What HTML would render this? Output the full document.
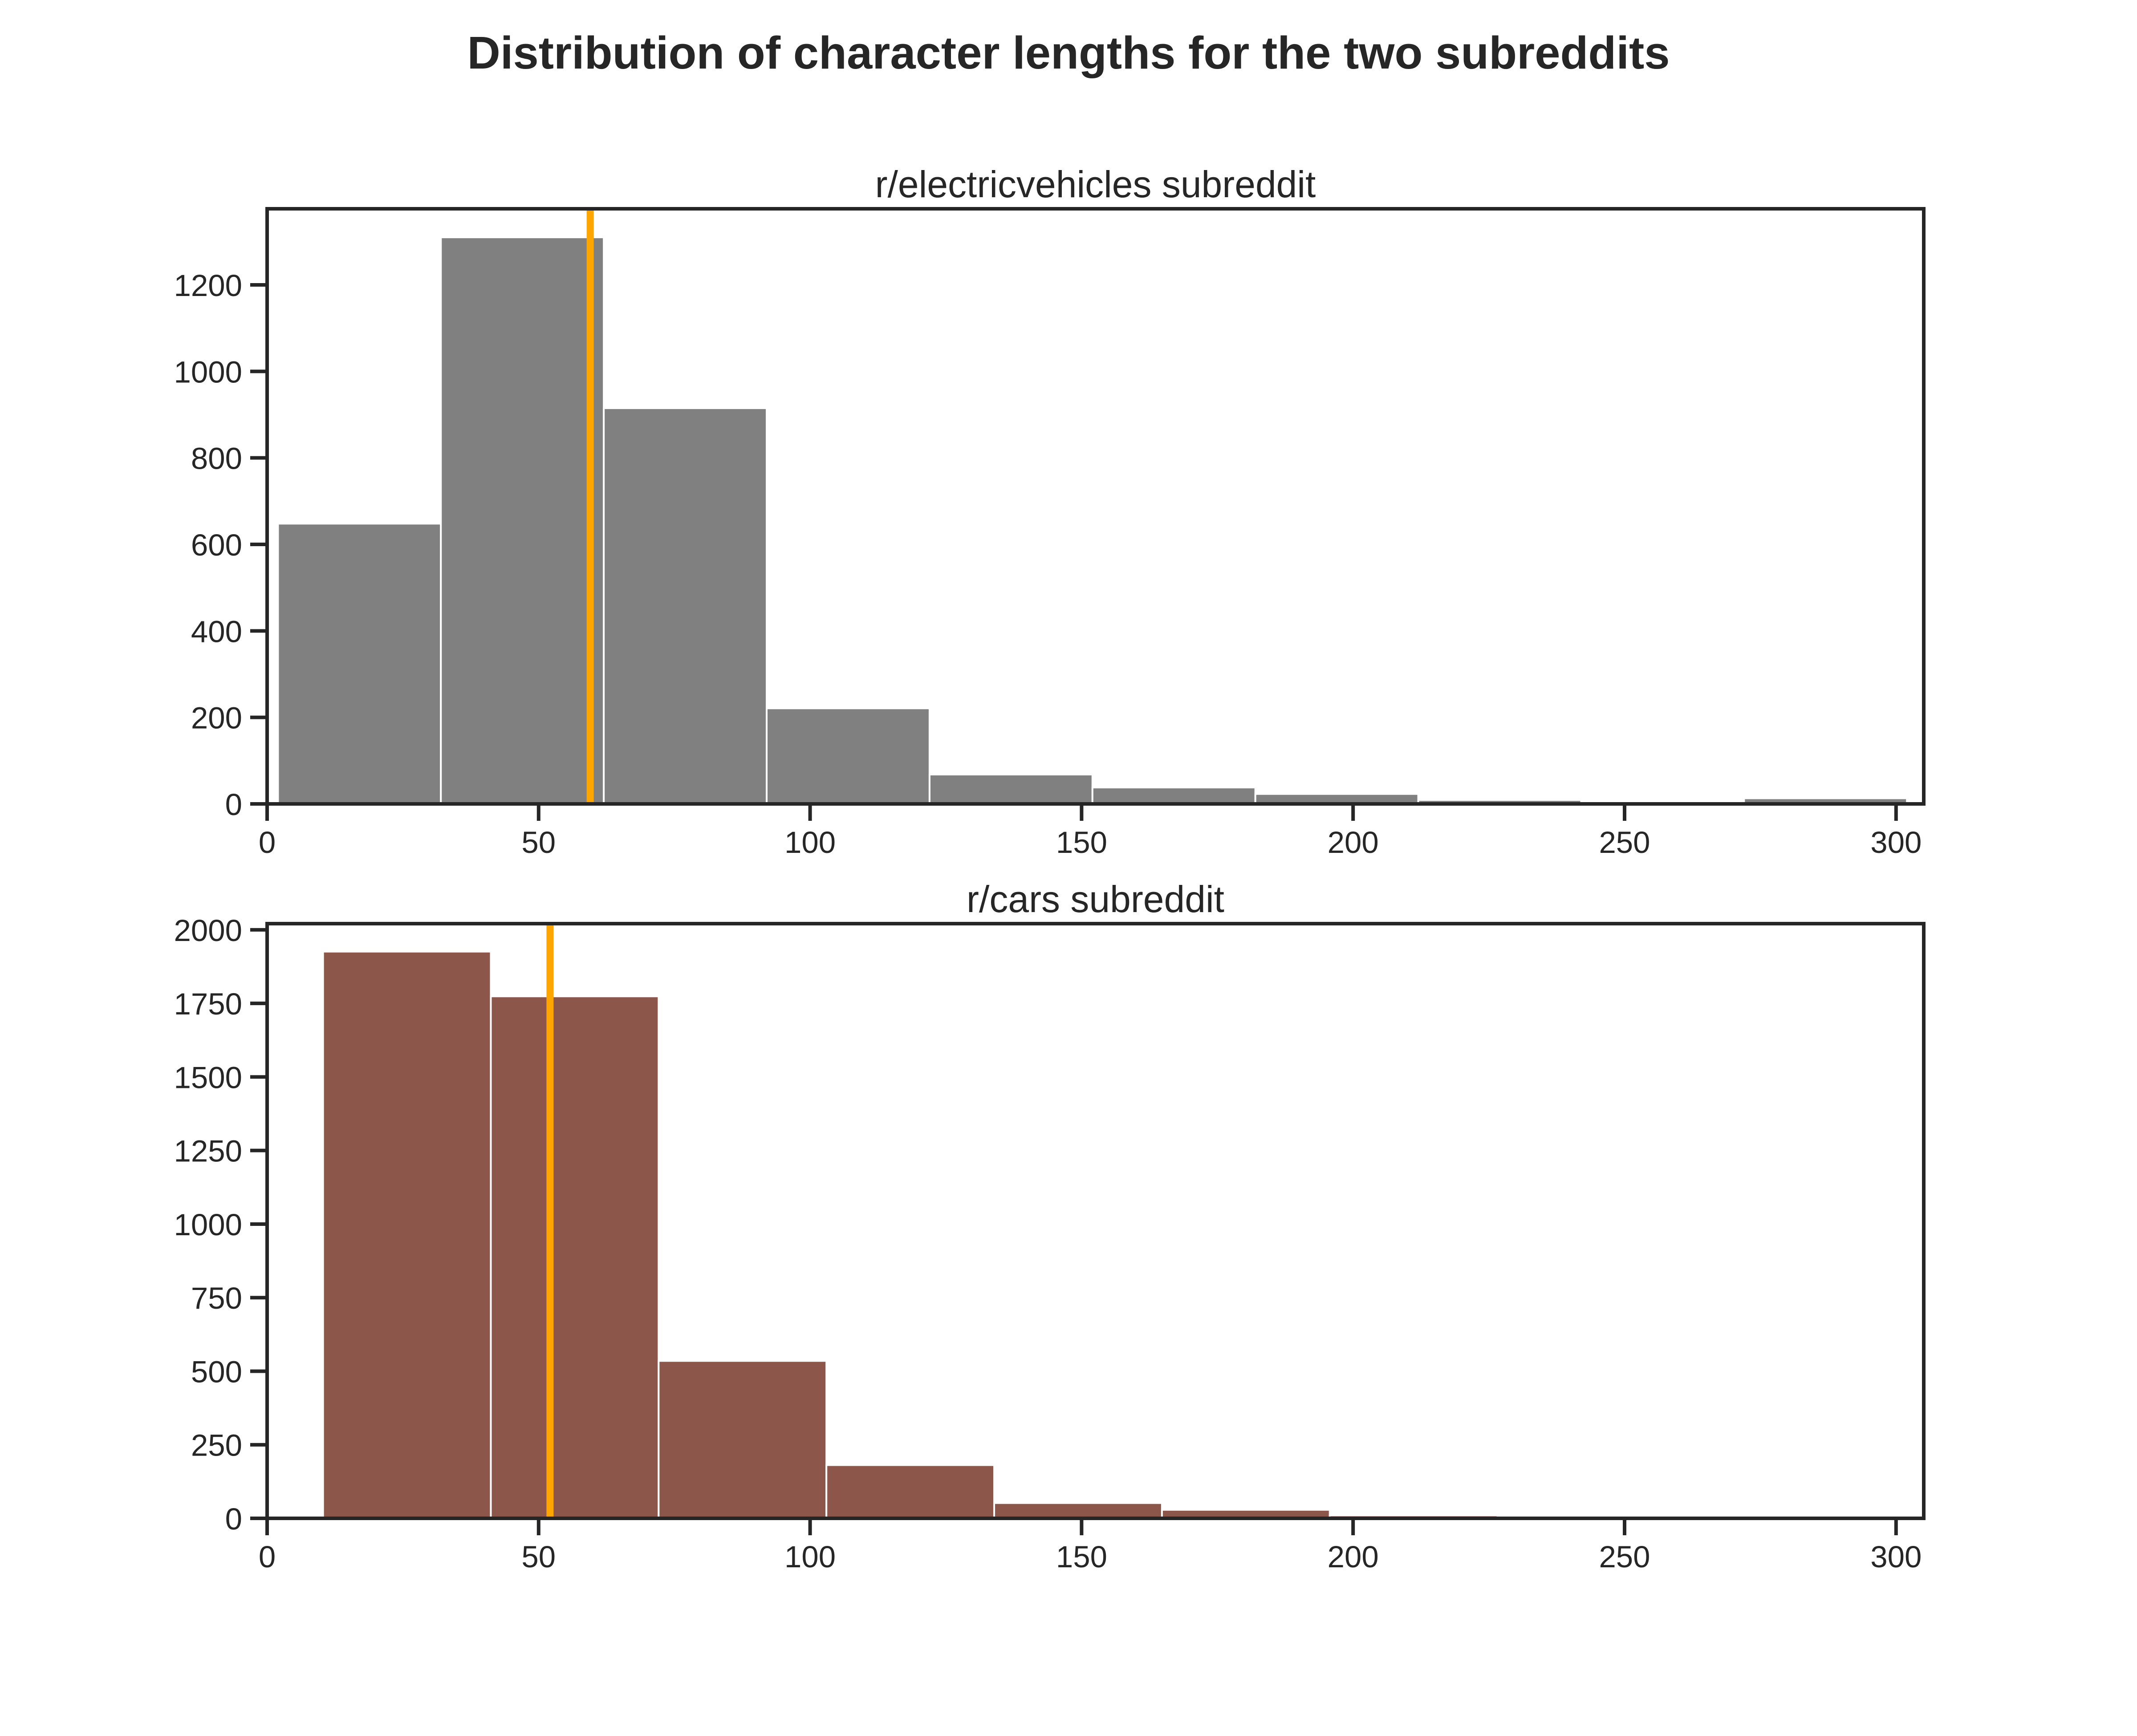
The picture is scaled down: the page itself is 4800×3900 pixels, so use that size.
<!DOCTYPE html>
<html><head><meta charset="utf-8"><style>
html,body{margin:0;padding:0;background:#fff;}
svg{display:block;font-family:"Liberation Sans",Arial,sans-serif;}
</style></head><body>
<svg id="fig" width="4800" height="3900" viewBox="0 0 4800 3900" xmlns="http://www.w3.org/2000/svg">
<rect width="4800" height="3900" fill="#fff"/>
<text x="2400" y="154" text-anchor="middle" font-size="103" font-weight="bold" fill="#262626">Distribution of character lengths for the two subreddits</text>
<g id="ax1"></g>
<g id="ax2"></g>
</svg>
<script>
// ---- data ----
const evBinStart = 2;
const evBinWidth = 30;
const evCounts = [648, 1310, 915, 221, 68, 38, 23, 9, 2, 13];
const evMean = 59.5;
const evYTicks = [0, 200, 400, 600, 800, 1000, 1200];
const evYMax = 1376;

const carsBinStart = 10.3;
const carsBinWidth = 30.9;
const carsCounts = [1926, 1774, 535, 181, 52, 29, 10, 0, 0, 0];
const carsMean = 52.1;
const carsYTicks = [0, 250, 500, 750, 1000, 1250, 1500, 1750, 2000];
const carsYMax = 2021;

const xTicks = [0, 50, 100, 150, 200, 250, 300];
const xMax = 305.1;

const NS = "http://www.w3.org/2000/svg";
function mk(tag, attrs, parent){
  const e = document.createElementNS(NS, tag);
  for (const k in attrs) e.setAttribute(k, attrs[k]);
  parent.appendChild(e);
  return e;
}
const L = 600, R = 4321;
function drawPanel(g, top, bottom, title, binStart, binWidth, counts, mean, yTicks, yMax, color, key){
  const xs = v => L + (v / xMax) * (R - L);
  const ys = v => bottom - (v / yMax) * (bottom - top);
  const t = mk('text', {x:(L+R)/2, y: top-26, 'text-anchor':'middle', 'font-size':84, fill:'#262626'}, g);
  t.textContent = title;
  
  
  counts.forEach((c, i) => {
    if (c <= 0) return;
    const x0 = xs(binStart + i*binWidth), x1 = xs(binStart + (i+1)*binWidth);
    const r = mk('rect', {x:x0, y:ys(c), width:x1-x0, height:bottom-ys(c), fill:color, stroke:'#fff', 'stroke-width':4}, g);
    
    
  });
  const ml = mk('line', {x1:xs(mean), x2:xs(mean), y1:top, y2:bottom, stroke:'#ffa500', 'stroke-width':16}, g);
  
  
  const fr = mk('rect', {x:L, y:top, width:R-L, height:bottom-top, fill:'none', stroke:'#262626', 'stroke-width':8}, g);
  
  
  yTicks.forEach(v => {
    const y = ys(v);
    const tk = mk('line', {x1:L-38, x2:L, y1:y, y2:y, stroke:'#262626', 'stroke-width':8}, g);
    
    
    const tl = mk('text', {x:L-56, y:y+25, 'text-anchor':'end', 'font-size':69, fill:'#262626'}, g);
    tl.textContent = v;
    
    
  });
  xTicks.forEach(v => {
    const x = xs(v);
    const tk = mk('line', {x1:x, x2:x, y1:bottom, y2:bottom+38, stroke:'#262626', 'stroke-width':8}, g);
    
    
    const tl = mk('text', {x:x, y:bottom+110, 'text-anchor':'middle', 'font-size':69, fill:'#262626'}, g);
    tl.textContent = v;
    
    
  });
}
drawPanel(document.getElementById('ax1'), 469, 1806, 'r/electricvehicles subreddit', evBinStart, evBinWidth, evCounts, evMean, evYTicks, evYMax, '#808080', 'ev');
drawPanel(document.getElementById('ax2'), 2075, 3411, 'r/cars subreddit', carsBinStart, carsBinWidth, carsCounts, carsMean, carsYTicks, carsYMax, '#8c564b', 'cars');
</script>
</body></html>
